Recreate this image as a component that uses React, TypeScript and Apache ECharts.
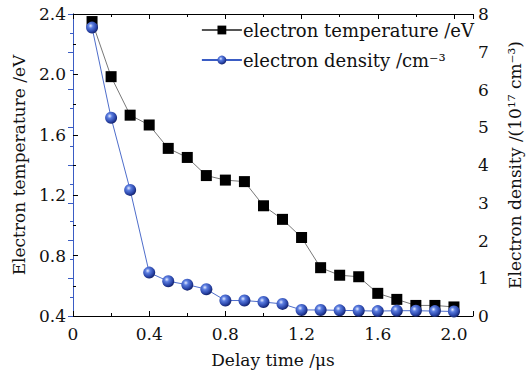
import React, { useEffect, useRef } from "react";
import * as echarts from "echarts";

const delayTimes = [0.1, 0.2, 0.3, 0.4, 0.5, 0.6, 0.7, 0.8, 0.9, 1.0, 1.1, 1.2, 1.3, 1.4, 1.5, 1.6, 1.7, 1.8, 1.9, 2.0];
const electronTemperature = [2.35, 1.985, 1.73, 1.665, 1.51, 1.45, 1.33, 1.30, 1.29, 1.13, 1.04, 0.92, 0.72, 0.67, 0.66, 0.55, 0.51, 0.47, 0.47, 0.46];
const electronDensity = [7.64, 5.25, 3.34, 1.15, 0.92, 0.83, 0.71, 0.41, 0.41, 0.37, 0.32, 0.16, 0.16, 0.15, 0.14, 0.13, 0.14, 0.14, 0.13, 0.12];

const tempName = "electron temperature /eV";
const densName = "electron density /cm\u207B\u00B3";

const FONT = "'DejaVu Serif', serif";
const BLUE = "#3a5cc4";

export default function App() {
  const ref = useRef<HTMLDivElement>(null);
  useEffect(() => {
    if (!ref.current) return;
    const chart = echarts.init(ref.current, null, { renderer: "svg" });
    const sphere = {
      type: "radial",
      x: 0.38,
      y: 0.35,
      r: 0.65,
      colorStops: [
        { offset: 0, color: "#e6ecff" },
        { offset: 0.3, color: "#5b7de0" },
        { offset: 0.75, color: "#2a45a8" },
        { offset: 1, color: "#15246e" },
      ],
    };
    const txt = { fontFamily: FONT, fontSize: 17, color: "#111" };
    chart.setOption({
      animation: false,
      backgroundColor: "#fff",
      textStyle: { fontFamily: FONT },
      grid: { left: 73, right: 49, top: 14, bottom: 54 },
      legend: {
        orient: "vertical",
        right: 52,
        top: 16,
        itemWidth: 40,
        itemHeight: 11,
        itemGap: 12,
        textStyle: { ...txt, fontSize: 18, padding: [0, 0, 0, -4] },
        data: [tempName, densName],
      },
      xAxis: [
        {
          type: "value",
          min: 0,
          max: 2.1,
          interval: 0.4,
          name: "Delay time /\u03BCs",
          nameLocation: "middle",
          nameGap: 35,
          nameTextStyle: txt,
          axisLine: { lineStyle: { color: "#000", width: 1 } },
          axisTick: { inside: true, length: 5, lineStyle: { color: "#000" } },
          minorTick: { show: true, splitNumber: 2, length: 3, lineStyle: { color: "#000" } },
          splitLine: { show: false },
          axisLabel: {
            ...txt,
            margin: 9,
            showMaxLabel: false,
            formatter: (v: number) => (v === 0 ? "0" : v.toFixed(1)),
          },
        },
        {
          type: "value",
          position: "top",
          min: 0,
          max: 2.1,
          interval: 0.4,
          axisLine: { lineStyle: { color: "#000", width: 1 } },
          axisTick: { inside: true, length: 5, lineStyle: { color: "#000" } },
          minorTick: { show: true, splitNumber: 2, length: 3, lineStyle: { color: "#000" } },
          splitLine: { show: false },
          axisLabel: { show: false },
        },
      ],
      yAxis: [
        {
          type: "value",
          min: 0.4,
          max: 2.4,
          interval: 0.4,
          name: "Electron temperature /eV",
          nameLocation: "middle",
          nameGap: 46,
          nameTextStyle: txt,
          axisLine: { show: true, lineStyle: { color: "#000", width: 1 } },
          axisTick: { inside: true, length: 5, lineStyle: { color: "#000" } },
          minorTick: { show: true, splitNumber: 2, length: 3, lineStyle: { color: "#000" } },
          splitLine: { show: false },
          axisLabel: { ...txt, margin: 7, formatter: (v: number) => v.toFixed(1) },
        },
        {
          type: "value",
          position: "right",
          min: 0,
          max: 8,
          interval: 1,
          name: "Electron density /(10\u00B9\u2077 cm\u207B\u00B3)",
          nameLocation: "middle",
          nameGap: 33,
          nameRotate: 90,
          nameTextStyle: txt,
          axisLine: { show: true, lineStyle: { color: BLUE, width: 1 } },
          axisTick: { inside: true, length: 5, lineStyle: { color: BLUE } },
          minorTick: { show: true, splitNumber: 2, length: 3, lineStyle: { color: BLUE } },
          splitLine: { show: false },
          axisLabel: { ...txt, margin: 5 },
        },
      ],
      series: [
        {
          name: tempName,
          type: "line",
          xAxisIndex: 0,
          yAxisIndex: 0,
          data: delayTimes.map((t, i) => [t, electronTemperature[i]]),
          symbol: "rect",
          symbolSize: 11,
          lineStyle: { color: "#555", width: 0.8 },
          itemStyle: { color: "#000" },
          z: 3,
        },
        {
          name: densName,
          type: "line",
          xAxisIndex: 0,
          yAxisIndex: 1,
          data: delayTimes.map((t, i) => [t, electronDensity[i]]),
          symbol: "circle",
          symbolSize: 12,
          lineStyle: { color: BLUE, width: 0.9 },
          itemStyle: { color: sphere },
          z: 4,
        },
      ],
    });
    return () => chart.dispose();
  }, []);
  return <div ref={ref} style={{ width: 531, height: 373, position: "absolute", left: 0, top: 0 }} />;
}
